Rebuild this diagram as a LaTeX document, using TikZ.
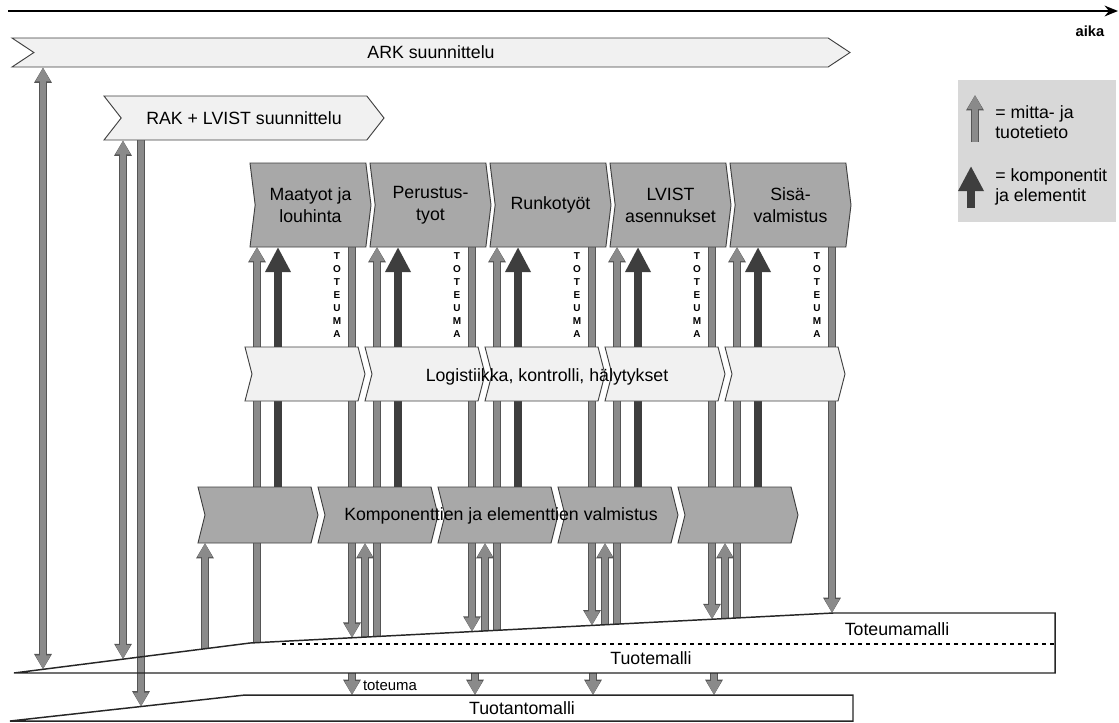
\documentclass[tikz,border=0pt]{standalone}
\usepackage{fontspec}
\setmainfont{Liberation Sans}
\usetikzlibrary{shapes.symbols,arrows.meta,backgrounds}

\definecolor{barlight}{HTML}{F1F1F1}
\definecolor{bardark}{HTML}{A8A8A8}
\definecolor{edgegray}{HTML}{404040}
\definecolor{infogray}{HTML}{8A8A8A}
\definecolor{infoedge}{HTML}{555555}
\definecolor{compgray}{HTML}{3E3E3E}
\definecolor{legendgray}{HTML}{D8D8D8}

\tikzset{
  infotip/.tip={Triangle[length=10.5pt,width=10.5pt]},
  infotipo/.tip={Triangle[length=11.5pt,width=12.5pt]},
  comptip/.tip={Triangle[length=18.75pt,width=18pt]},
  bartext/.style={font=\fontsize{13.3}{16.5}\selectfont},
  bar/.style={signal, signal from=west, signal to=east, draw=edgegray,
    line width=0.7pt, inner sep=0pt, bartext, align=center},
  lightbar/.style={bar, fill=barlight},
  darkbar/.style={bar, fill=bardark},
  phasebox/.style={darkbar, minimum width=90.75pt, minimum height=63pt,
    signal pointer angle=166},
  logseg/.style={lightbar, minimum width=90pt, minimum height=40.5pt,
    signal pointer angle=151},
  compseg/.style={darkbar, minimum width=90pt, minimum height=42pt,
    signal pointer angle=152},
  infoarrow/.style={draw=infogray, line width=4.9pt, -infotip,
    preaction={draw=infoedge, line width=6pt, -infotipo}},
  infoboth/.style={draw=infogray, line width=4.9pt, infotip-infotip,
    preaction={draw=infoedge, line width=6pt, infotipo-infotipo}},
  comparrow/.style={draw=compgray, line width=6pt, -comptip},
  vlabel/.style={align=center, inner sep=0pt, font=\bfseries\fontsize{7.5}{9.75}\selectfont},
  modelbox/.style={draw=black!85, line width=1.1pt},
  legendtext/.style={font=\fontsize{13.3}{14.5}\selectfont, anchor=west,
    align=left, inner sep=0pt},
}

\begin{document}
\begin{tikzpicture}[x=0.75pt,y=-0.75pt]
\useasboundingbox (0,0) rectangle (1119,722);

% aikajana
\coordinate (t0) at (8,11);
\coordinate (t1) at (1118,11);
\draw[line width=1.9pt, -{Stealth[length=10pt,width=8pt]}] (t0) -- (t1);
\node[font=\bfseries\fontsize{11}{13}\selectfont] (aika) at (1090,31) {aika};

% suunnittelu
\node[lightbar, minimum width=628.5pt, minimum height=21.75pt,
  signal pointer angle=67] (ark) at (431,52.5) {ARK suunnittelu};
\node[lightbar, minimum width=210pt, minimum height=33pt,
  signal pointer angle=104] (rak) at (244,118) {RAK + LVIST suunnittelu};

% vaiheet
\foreach \i/\txt in {1/{Maatyot ja\\louhinta},2/{Perustus-\\tyot},3/{Runkotyöt},
    4/{LVIST\\asennukset},5/{Sisä-\\valmistus}}
  \node[phasebox] (p\i) at ({310.5+120*(\i-1)},205) {\txt};
\coordinate (pbot) at (0,247);

% logistiikka
\foreach \i in {1,...,5}
  \node[logseg] (l\i) at ({305+120*(\i-1)},374) {};
\node[bartext] (logtext) at (547,377) {Logistiikka, kontrolli, hälytykset};

% komponentit
\foreach \i in {1,...,5}
  \node[compseg] (k\i) at ({258+120*(\i-1)},515) {};
\node[bartext] (komptext) at (501,516) {Komponenttien ja elementtien valmistus};
\coordinate (ktop) at (0,487);
\coordinate (kbot) at (0,543);

% TOTEUMA
\foreach \i in {1,...,5}
  \node[vlabel] (v\i) at ({337+120*(\i-1)},295) {T\\O\\T\\E\\U\\M\\A};

% mallit
\draw[modelbox] (14,673) coordinate (tm0) -- (250,643) coordinate (tm1)
  -- (833,613) coordinate (tm2) -- (1055,613) -- (1055,673) -- cycle;
\draw[dashed, line width=0.8pt] (282,644) -- (1055,644);
\node[bartext] (toteumamalli) at (897,629) {Toteumamalli};
\node[bartext] (tuotemalli) at (651,658) {Tuotemalli};
\draw[modelbox] (10,721) -- (245,695) coordinate (tp1) -- (853,695) -- (853,721) -- cycle;
\node[bartext] (tuotantomalli) at (522,708) {Tuotantomalli};
\node[font=\fontsize{11.2}{13}\selectfont] (toteumalabel) at (390,686) {toteuma};

% nuolet
\begin{pgfonlayer}{background}
\fill[white] (0,0) rectangle (1119,722);
\coordinate (e0) at (43,669.3);
\coordinate (e1) at (123,659.1);
\coordinate (e2) at (141,706.5);
\draw[infoboth] (e0) -- (e0 |- ark.south);
\draw[infoboth] (e1) -- (e1 |- rak.south);
\draw[infoarrow] (e2 |- rak.south) -- (e2);

\foreach \i/\xa/\ya/\xd/\yd in {1/257/642.6/352/637.8,2/377/636.5/472/631.6,
    3/497/630.3/592/625.4,4/617/624.1/712/619.2,5/737/617.9/832/613.0} {
  \coordinate (a\i) at (\xa,\ya);
  \coordinate (b\i) at (\xa+21,0);
  \coordinate (d\i) at (\xd,\yd);
  \draw[infoarrow] (a\i) -- (a\i |- pbot);
  \draw[comparrow] (b\i |- ktop) -- (b\i |- pbot);
  \draw[infoarrow] (d\i |- pbot) -- (d\i);
}
\foreach \i/\xc/\yc in {1/205/648.7,2/365/637.1,3/485/630.9,4/605/624.7,5/725/618.6} {
  \coordinate (c\i) at (\xc,\yc);
  \draw[infoarrow] (c\i) -- (c\i |- kbot);
}
\foreach \x [count=\j] in {352,475,593,714} {
  \coordinate (m\j) at (\x,673);
  \draw[infoarrow] (m\j) -- (m\j |- tp1);
}
\end{pgfonlayer}

% selite
\node[fill=legendgray, minimum width=118.5pt, minimum height=106.5pt,
  inner sep=0pt] (legend) at (1037,151) {};
\coordinate (g1) at (975,142);
\coordinate (g1t) at (975,95);
\draw[infoarrow] (g1) -- (g1t);
\node[legendtext] (gt1) at (995,122) {= mitta- ja\\tuotetieto};
\coordinate (g2) at (971,208);
\coordinate (g2t) at (971,166);
\draw[comparrow] (g2) -- (g2t);
\node[legendtext] (gt2) at (995,187) {= komponentit\\ja elementit};

\end{tikzpicture}
\end{document}
